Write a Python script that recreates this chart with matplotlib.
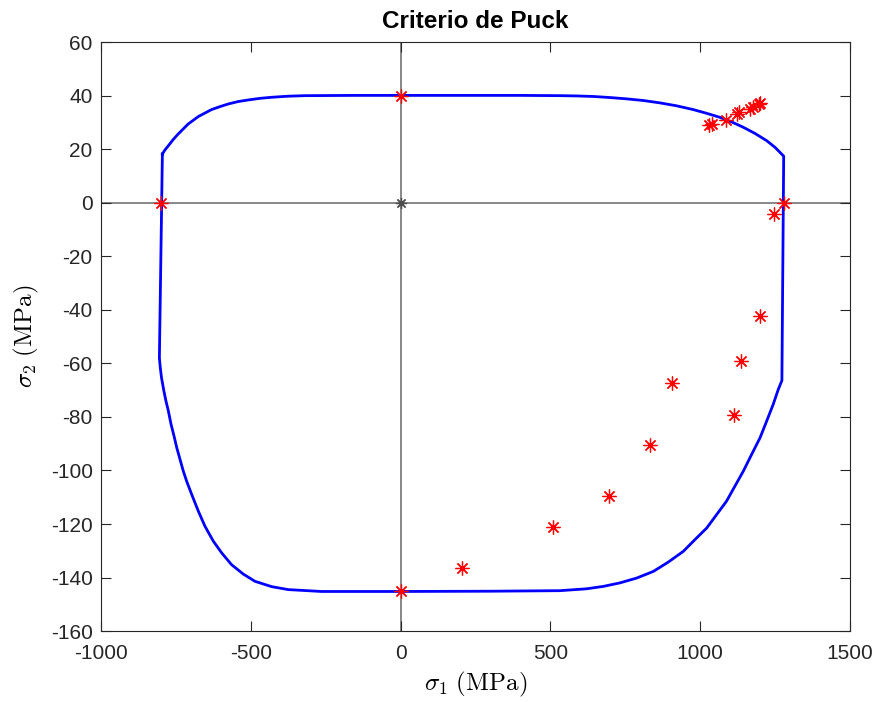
import matplotlib
matplotlib.use('Agg')
import matplotlib.pyplot as plt

plt.rcParams['font.family'] = ['Liberation Sans', 'DejaVu Sans']
plt.rcParams['mathtext.fontset'] = 'cm'
plt.rcParams['axes.unicode_minus'] = False

# envoltura de fallo, recorrida en sentido horario
env_s1 = [-795, -786, -775, -759, -742, -725, -709, -692, -675, -653, -631, -603, -575, -542,
          -508, -469, -430, -375, -319, -152, 0, 200, 400,
          532, 588, 643, 699, 755, 810, 866, 922, 977, 1022, 1066, 1105, 1144, 1183, 1222, 1250, 1279,
          1273, 1261, 1244, 1222, 1200, 1172, 1144, 1116, 1088, 1055, 1022, 983, 944, 894, 844,
          788, 732, 677, 621, 532, 300, 0,
          -150, -264, -375, -430, -486, -525, -564, -597, -625, -653, -675, -697, -714, -725, -736,
          -747, -756, -766, -775, -783, -790, -798, -802, -805, -795]
env_s2 = [18.2, 19.8, 21.3, 23.6, 25.7, 27.6, 29.4, 30.8, 32.2, 33.5, 34.8, 35.9, 36.9, 37.8,
          38.4, 39.0, 39.4, 39.8, 40.0, 40.1, 40.1, 40.1, 40.1,
          40.0, 39.9, 39.7, 39.3, 38.8, 38.2, 37.3, 36.2, 34.8, 33.4, 31.9, 30.2, 28.2, 25.9, 23.2, 20.7, 17.4,
          -66.4, -69.7, -75.3, -81.6, -87.8, -94.0, -100.3, -105.9, -111.5, -116.5, -121.5, -125.8, -130.2, -134.2, -137.7,
          -140.2, -142.0, -143.3, -144.2, -144.9, -145.1, -145.2,
          -145.2, -145.2, -144.5, -143.4, -141.4, -138.7, -135.2, -130.8, -126.4, -120.8, -115.2, -109.0, -104.0, -100.3, -95.9,
          -91.5, -87.2, -82.8, -77.8, -74.1, -70.3, -65.3, -61.6, -57.9, 18.2]

# puntos de ensayo / laminas
pts_s1 = [0, 0, -800, 1280, 1247, 1200, 1136, 1112, 906, 832, 696, 509, 205,
          1030, 1040, 1085, 1122, 1130, 1167, 1175, 1195, 1199]
pts_s2 = [40, -145, 0, 0, -4.2, -42.2, -59.2, -79.4, -67.2, -90.4, -109.5, -121, -136.5,
          29.0, 29.3, 31.0, 33.0, 34.0, 35.0, 35.8, 36.8, 37.2]

fig = plt.figure(figsize=(8.78, 7.02), dpi=100)
ax = fig.add_axes([0.115, 0.101, 0.853, 0.839])

ax.axhline(0, color='0.45', lw=1.2, zorder=1)
ax.axvline(0, color='0.45', lw=1.2, zorder=1)
ax.plot([0], [0], marker=(8, 2, 0), color='0.3', ms=8, mew=0.9, ls='none', zorder=2)

ax.plot(env_s1, env_s2, color='#0000ff', lw=2, zorder=3)
ax.plot(pts_s1, pts_s2, marker=(8, 2, 0), color='#ff0000', ms=10, mew=0.9, ls='none', zorder=4)

ax.set_xlim(-1000, 1500)
ax.set_ylim(-160, 60)
ax.set_xticks(range(-1000, 1501, 500))
ax.set_yticks(range(-160, 61, 20))
ax.tick_params(direction='in', top=True, right=True, length=7, width=0.8,
               labelsize=15, colors='#262626')
ax.tick_params(axis='x', pad=9)
ax.tick_params(axis='y', pad=6)
for s in ax.spines.values():
    s.set_color('#262626')
    s.set_linewidth(0.8)

ax.set_title('Criterio de Puck', fontsize=17.5, fontweight='bold', pad=10)
ax.set_xlabel(r'$\sigma_1\ (\mathrm{MPa})$', fontsize=18, labelpad=5)
ax.set_ylabel(r'$\sigma_2\ (\mathrm{MPa})$', fontsize=18, labelpad=7)

fig.savefig('out.png', dpi=100)
